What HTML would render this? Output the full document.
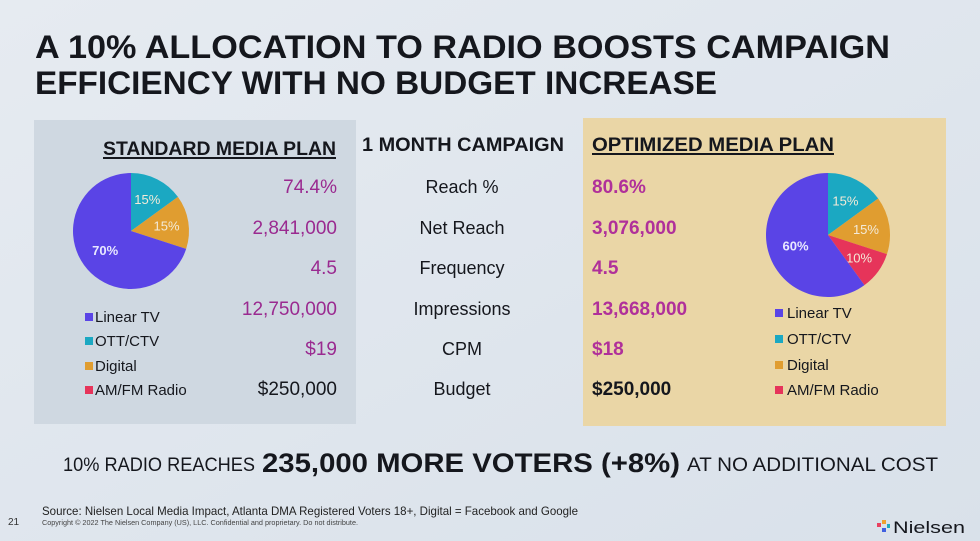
<!DOCTYPE html>
<html><head><meta charset="utf-8"><style>
body{margin:0;width:980px;height:541px;overflow:hidden;background:#dfe6ee;font-family:"Liberation Sans",sans-serif;position:relative}
.a{position:absolute;white-space:nowrap}
svg text{font-family:"Liberation Sans",sans-serif}
</style></head><body>
<svg width="980" height="541" style="position:absolute;left:0;top:0">
<defs><linearGradient id="bg" x1="0" y1="0" x2="1" y2="1"><stop offset="0" stop-color="#e6ebf1"/><stop offset="1" stop-color="#d9e1ea"/></linearGradient></defs>
<rect width="980" height="541" fill="url(#bg)"/>
<text x="35" y="58" font-size="32" font-weight="bold" fill="#15171d" textLength="855" lengthAdjust="spacingAndGlyphs">A 10% ALLOCATION TO RADIO BOOSTS CAMPAIGN</text>
<text x="35" y="94" font-size="32" font-weight="bold" fill="#15171d" textLength="682" lengthAdjust="spacingAndGlyphs">EFFICIENCY WITH NO BUDGET INCREASE</text>
<rect x="34" y="120" width="322" height="304" fill="#cfd8e1"/>
<rect x="583" y="118" width="363" height="308" fill="#ead6a6"/>
<text x="103" y="155" font-size="19" font-weight="bold" fill="#15171d" textLength="233" lengthAdjust="spacingAndGlyphs">STANDARD MEDIA PLAN</text>
<rect x="103" y="157" width="233" height="2" fill="#15171d"/>
<text x="362" y="151" font-size="19" font-weight="bold" fill="#15171d" textLength="202" lengthAdjust="spacingAndGlyphs">1 MONTH CAMPAIGN</text>
<text x="592" y="151" font-size="19" font-weight="bold" fill="#15171d" textLength="242" lengthAdjust="spacingAndGlyphs">OPTIMIZED MEDIA PLAN</text>
<rect x="592" y="153" width="242" height="2" fill="#15171d"/>
<g id="leftPie"></g><g id="rightPie"></g><g id="rows"></g><g id="legends"></g>
<text x="63" y="471" font-size="19" fill="#15171d" textLength="192" lengthAdjust="spacingAndGlyphs">10% RADIO REACHES</text>
<text x="262" y="472" font-size="27" font-weight="bold" fill="#15171d" textLength="418" lengthAdjust="spacingAndGlyphs">235,000 MORE VOTERS (+8%)</text>
<text x="687" y="471" font-size="19" fill="#15171d" textLength="251" lengthAdjust="spacingAndGlyphs">AT NO ADDITIONAL COST</text>
<text x="42" y="515" font-size="12" fill="#222" textLength="536" lengthAdjust="spacingAndGlyphs">Source: Nielsen Local Media Impact, Atlanta DMA Registered Voters 18+, Digital = Facebook and Google</text>
<text x="8" y="525" font-size="10" fill="#333">21</text>
<text x="42" y="525" font-size="7" fill="#444" textLength="316" lengthAdjust="spacingAndGlyphs">Copyright © 2022 The Nielsen Company (US), LLC. Confidential and proprietary. Do not distribute.</text>
<g>
<rect x="877" y="523" width="4" height="4" fill="#e84060"/><rect x="882" y="520" width="4" height="4" fill="#f0a030"/><rect x="882" y="528" width="4" height="4" fill="#4060e0"/><rect x="887" y="524" width="3" height="4" fill="#20a8c0"/>
<text x="893" y="533" font-size="17" fill="#15171d" textLength="72" lengthAdjust="spacingAndGlyphs">Nielsen</text></g>
</svg>
<script>
const categories=["Linear TV","OTT/CTV","Digital","AM/FM Radio"];
const colors=["#5a44e6","#1ba8c2","#e09d30","#e6345a"];
const standardShares=[70,15,15,0];
const optimizedShares=[60,15,15,10];
const metrics=["Reach %","Net Reach","Frequency","Impressions","CPM","Budget"];
const standardValues=["74.4%","2,841,000","4.5","12,750,000","$19","$250,000"];
const optimizedValues=["80.6%","3,076,000","4.5","13,668,000","$18","$250,000"];
const NS="http://www.w3.org/2000/svg";
function mk(t,a,p){const e=document.createElementNS(NS,t);for(const k in a)e.setAttribute(k,a[k]);p.appendChild(e);return e;}
function pie(g,cx,cy,r,shares,labelPos){
  // order clockwise from top: OTT, Digital, Radio, Linear
  const order=[1,2,3,0];let ang=0;
  order.forEach(i=>{const v=shares[i];if(!v)return;
    const a0=ang/100*2*Math.PI,a1=(ang+v)/100*2*Math.PI;
    const x0=cx+r*Math.sin(a0),y0=cy-r*Math.cos(a0),x1=cx+r*Math.sin(a1),y1=cy-r*Math.cos(a1);
    const p=mk('path',{d:`M${cx},${cy}L${x0},${y0}A${r},${r} 0 ${v>50?1:0} 1 ${x1},${y1}Z`,fill:colors[i]},g);
    
    
    const m=(ang+v/2)/100*2*Math.PI,rr=i==0?r*0.55:r*0.62;
    const t=mk('text',{x:cx+rr*Math.sin(m),y:cy-rr*Math.cos(m)+5,'font-size':13,'text-anchor':'middle',fill:i==0?'#e8e8ff':'#f3ead8','font-weight':i==0?'bold':'normal'},g);
    t.textContent=v+'%';
    ang+=v;});
}
pie(document.getElementById('leftPie'),131,231,58,standardShares);
pie(document.getElementById('rightPie'),828,235,62,optimizedShares);
const rows=document.getElementById('rows');
const ys=[193,234,274,315,355,395];
metrics.forEach((m,i)=>{
  let t=mk('text',{x:462,y:ys[i],'font-size':18,'text-anchor':'middle',fill:'#15171d'},rows);t.textContent=m;
  
  t=mk('text',{x:337,y:ys[i],'font-size':19,'text-anchor':'end',fill:i==5?'#15171d':'#9a2a90'},rows);t.textContent=standardValues[i];
  
  t=mk('text',{x:592,y:ys[i],'font-size':19,'font-weight':'bold',fill:i==5?'#15171d':'#b0309a'},rows);t.textContent=optimizedValues[i];
  
});
const lg=document.getElementById('legends');
[[85,95,[322,346,371,395]],[775,787,[318,344,370,395]]].forEach(([sx,tx,yy])=>{
  categories.forEach((c,i)=>{
    const r=mk('rect',{x:sx,y:yy[i]-9,width:8,height:8,fill:colors[i]},lg);
    
    const t=mk('text',{x:tx,y:yy[i],'font-size':15,fill:'#15171d'},lg);t.textContent=c;
    
  });
});
</script>
</body></html>
